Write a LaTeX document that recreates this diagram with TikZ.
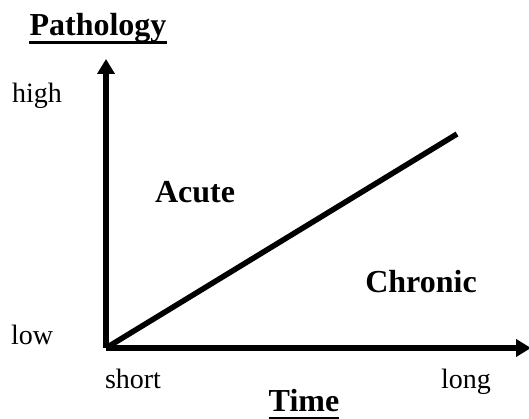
\documentclass[tikz,border=0pt]{standalone}
\usepackage{fontspec}
\setmainfont{Liberation Serif}
\usetikzlibrary{arrows.meta}
\tikzset{
  axis/.style={line width=5.5pt, -{Triangle[length=15pt,width=17pt]}},
  trend/.style={line width=5.5pt},
  tick/.style={inner sep=0pt, anchor=base, font=\fontsize{28}{32}\selectfont},
  region/.style={inner sep=0pt, anchor=base, font=\fontsize{32}{36}\selectfont\bfseries},
  uline/.style={line width=3pt}
}
\begin{document}
\begin{tikzpicture}[x=1pt,y=-1pt]
  \useasboundingbox (0,0) rectangle (529,419);
  % axes
  \coordinate (O) at (106,348);
  \coordinate (ytip) at (106,59);
  \coordinate (xtip) at (531,348);
  \coordinate (tend) at (457,134);
  \draw[axis] (O) -- (ytip);
  \draw[axis] (O) -- (xtip);
  \draw[trend] (O) -- (tend);
  % axis titles
  \node[region] (ylab) at (98,36) {Pathology};
  \draw[uline] ([yshift=-7pt]ylab.base west) -- ([yshift=-7pt]ylab.base east);
  \node[region] (xlab) at (304,411) {Time};
  \draw[uline] ([yshift=-7pt]xlab.base west) -- ([yshift=-7pt]xlab.base east);
  % tick labels
  \node[tick] (high) at (37,103) {high};
  \node[tick] (low) at (32,344) {low};
  \node[tick] (short) at (133,388) {short};
  \node[tick] (long) at (466,388) {long};
  % regions
  \node[region] (acute) at (195,203) {Acute};
  \node[region] (chronic) at (421,292) {Chronic};
\end{tikzpicture}
\end{document}
